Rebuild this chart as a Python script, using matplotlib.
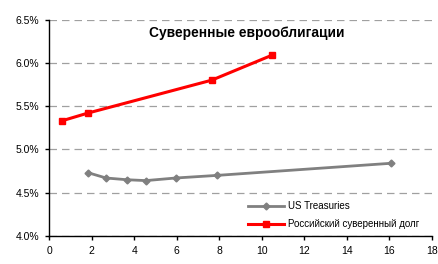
import numpy as np
import matplotlib.pyplot as plt
from matplotlib.ticker import FuncFormatter

plt.rcParams['font.family'] = ['Liberation Sans', 'DejaVu Sans']

# US Treasuries (срок, доходность %)
ust_x = [1.85, 2.68, 3.66, 4.55, 5.96, 7.89, 16.08]
ust_y = [4.73, 4.67, 4.65, 4.64, 4.67, 4.70, 4.84]

# Российский суверенный долг
rus_x = [0.6, 1.83, 7.65, 10.5]
rus_y = [5.33, 5.42, 5.80, 6.09]

title = 'Суверенные еврооблигации'
labels = ['US Treasuries', 'Российский суверенный долг']

fig = plt.figure(figsize=(4.38, 2.64), dpi=100)
ax = fig.add_axes([0.112, 0.106, 0.874, 0.82])

ax.plot(ust_x, ust_y, color='#808080', lw=2, marker='D', ms=3.5, label=labels[0])
ax.plot(rus_x, rus_y, color='#ff0000', lw=2.2, marker='s', ms=5, label=labels[1])

ax.set_xlim(0, 18)
ax.set_ylim(4.0, 6.5)
ax.set_xticks(np.arange(0, 19, 2))
ax.set_yticks(np.arange(4.0, 6.51, 0.5))
ax.yaxis.set_major_formatter(FuncFormatter(lambda v, p: f'{v:.1f}%'))
ax.grid(axis='y', color='#a0a0a0', ls=(0, (6, 4)), lw=0.9)
ax.set_axisbelow(True)

for s in ['top', 'right']:
    ax.spines[s].set_visible(False)
for s in ['left', 'bottom']:
    ax.spines[s].set_linewidth(1)
ax.tick_params(labelsize=7.5, length=3, width=1, direction='out', pad=4)

ax.text(9.28, 6.345, title, ha='center', va='center', fontsize=9.9, fontweight='bold')

ax.legend(loc='upper left', bbox_to_anchor=(0.52, 0.16), frameon=False, fontsize=7,
          borderpad=0, borderaxespad=0,
          handlelength=3.7, handletextpad=0.4, labelspacing=0.8)

fig.savefig('out.png', dpi=100)
